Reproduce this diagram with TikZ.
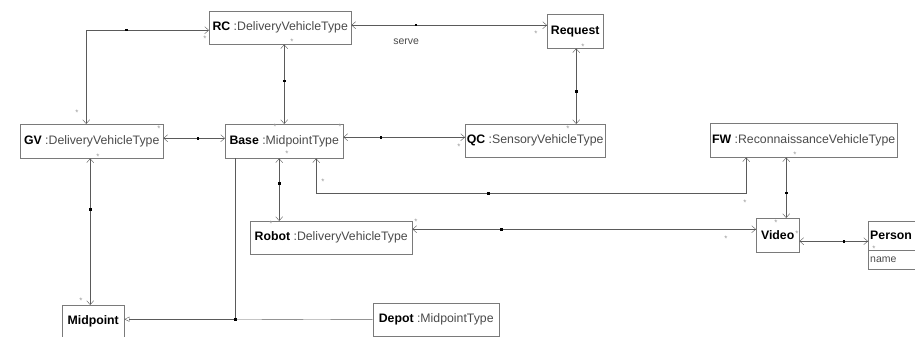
\documentclass[tikz,border=0pt]{standalone}
\usepackage{fontspec}
\setmainfont{Liberation Sans}
\usetikzlibrary{arrows.meta,positioning}

\definecolor{boxgray}{HTML}{7A7A7A}
\definecolor{linegray}{HTML}{5A5A5A}
\definecolor{typegray}{HTML}{4A4A4A}
\definecolor{stargray}{HTML}{9A9A9A}

\newcommand{\inst}[2]{\textbf{#1} \textcolor{typegray}{:#2}}

\begin{document}
\begin{tikzpicture}[
                x=1pt, y=-1pt,
                cls/.style={draw=boxgray, anchor=north west, inner sep=0pt, font=\fontsize{12.3}{14}\selectfont},
                assoc/.style={draw=linegray, {Straight Barb[length=4pt,width=7pt]}-{Straight Barb[length=4pt,width=7pt]}},
                gen/.style={draw=linegray, -{Triangle[open,length=5pt,width=5pt]}},
                dot/.style={fill=black, minimum size=2.6pt, inner sep=0pt},
                mult/.style={text=stargray, font=\fontsize{8}{8}\selectfont, inner sep=0pt},
                lbl/.style={text=typegray, font=\fontsize{10.5}{12}\selectfont, inner sep=0pt}
            ]
            \useasboundingbox (0,0) rectangle (915,337);
            \clip (0,0) rectangle (915,337);

            \node[cls, minimum width=142, minimum height=33] (RC) at (209,11) {\inst{RC}{DeliveryVehicleType}};
            \node[cls, minimum width=56, minimum height=34] (Request) at (547,14) {\textbf{Request}};
            \node[cls, minimum width=143, minimum height=34] (GV) at (20,124) {\inst{GV}{DeliveryVehicleType}};
            \node[cls, minimum width=118, minimum height=34] (Base) at (225,124) {\inst{Base}{MidpointType}};
            \node[cls, minimum width=140, minimum height=33] (QC) at (465,124) {\inst{QC}{SensoryVehicleType}};
            \node[cls, minimum width=187, minimum height=34] (FW) at (710,123) {\inst{FW}{ReconnaissanceVehicleType}};
            \node[cls, minimum width=162, minimum height=33] (Robot) at (250,221) {\inst{Robot}{DeliveryVehicleType}};
            \node[cls, minimum width=43, minimum height=34] (Video) at (756,218) {\textbf{Video}};
            \node[cls, text width=52, inner xsep=2pt, align=left, minimum height=29] (Person) at (868,221) {\textbf{Person}};
            \node[cls, text width=52, inner xsep=2pt, minimum height=19, align=left, font=\fontsize{10.5}{12}\selectfont\color{typegray}] (PersonAttr) at (Person.south west) {name};
            \node[cls, minimum width=62, text height=19, text depth=21] (Midpoint) at (62,305) {\textbf{Midpoint}};
            \node[cls, minimum width=126, minimum height=33] (Depot) at (373,303) {\inst{Depot}{MidpointType}};

            \draw[assoc] ([xshift=-5.5]GV.north) |- node[dot, pos=0.663]{} ([yshift=-2.5]RC.west);
            \draw[assoc] ([xshift=4]RC.south) -- node[dot, pos=0.46]{} (Base.north);
            \draw[assoc] ([yshift=2.5]RC.east) -- node[dot, pos=0.33]{} node[lbl, pos=0.28, below=13pt] (serve) {serve} ([yshift=6]Request.west);
            \draw[assoc] ([xshift=1]Request.south) -- node[dot, pos=0.57]{} ([xshift=41]QC.north);
            \draw[assoc] ([yshift=3]GV.east) -- node[dot, pos=0.56]{} ([yshift=3]Base.west);
            \draw[assoc] ([yshift=4]Base.east) -- node[dot, pos=0.31]{} ([yshift=3.5]QC.west);
            \draw[assoc] ([xshift=-1.5]GV.south) -- node[dot, pos=0.35]{} ([xshift=-3]Midpoint.north);
            \draw[assoc] ([xshift=-5]Base.south) -- node[dot, pos=0.4]{} ([xshift=-52]Robot.north);
            \draw[assoc] ([xshift=32]Base.south) -- ++(0,35) -| node[dot, pos=0.2]{} ([xshift=-57.5]FW.south);
            \draw[assoc] ([yshift=8.5]Robot.east) -- node[dot, pos=0.26]{} ([yshift=6]Video.west);
            \draw[assoc] ([xshift=-17.5]FW.south) -- node[dot, pos=0.59]{} ([xshift=8.5]Video.north);
            \draw[assoc] ([yshift=-6]Video.east) -- node[dot, pos=0.65]{} ([yshift=-5.5]Person.west);

            \draw[gen] ([xshift=-49]Base.south) |- node[dot, pos=0.5] (join) {} ([yshift=6]Midpoint.east);
            \draw[linegray] (Depot.west) -- (join);

            % multiplicities
            \node[mult] (m1) at (77,113) {*};
            \node[mult] (m2) at (205,39) {*};
            \node[mult] (m3) at (292,42) {*};
            \node[mult] (m4) at (536,34) {*};
            \node[mult] (m5) at (583,47) {*};
            \node[mult] (m6) at (568,129) {*};
            \node[mult] (m7) at (459,147) {*};
            \node[mult] (m8) at (340,127) {*};
            \node[mult] (m9) at (159,129) {*};
            \node[mult] (m10) at (98,157) {*};
            \node[mult] (m11) at (275,127) {*};
            \node[mult] (m12) at (287,154) {*};
            \node[mult] (m13) at (323,182) {*};
            \node[mult] (m14) at (271,224) {*};
            \node[mult] (m15) at (416,222) {*};
            \node[mult] (m16) at (795,155) {*};
            \node[mult] (m17) at (745,203) {*};
            \node[mult] (m18) at (776,223) {*};
            \node[mult] (m19) at (797,234) {*};
            \node[mult] (m20) at (726,239) {*};
            \node[mult] (m21) at (874,249) {*};
            \node[mult] (m22) at (81,301) {*};
        \end{tikzpicture}
\end{document}
